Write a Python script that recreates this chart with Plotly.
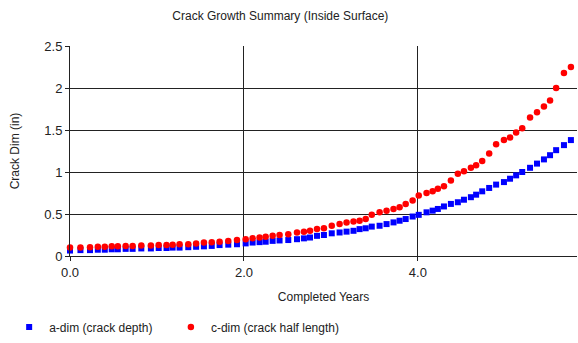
import plotly.graph_objects as go

years = [0.00, 0.12, 0.23, 0.32, 0.40, 0.48, 0.55, 0.64, 0.72, 0.82, 0.93, 1.02,
         1.11, 1.18, 1.26, 1.36, 1.45, 1.54, 1.63, 1.72, 1.82, 1.92, 2.02, 2.10,
         2.18, 2.25, 2.33, 2.41, 2.51, 2.61, 2.69, 2.76, 2.84, 2.92, 3.01, 3.10,
         3.18, 3.26, 3.33, 3.40, 3.47, 3.56, 3.64, 3.72, 3.79, 3.86, 3.94, 4.01,
         4.10, 4.17, 4.23, 4.30, 4.38, 4.46, 4.53, 4.61, 4.67, 4.74, 4.82, 4.90,
         4.99, 5.06, 5.13, 5.20, 5.29, 5.37, 5.45, 5.52, 5.59, 5.68, 5.76]

a_dim = [0.065, 0.07, 0.07, 0.075, 0.075, 0.08, 0.08, 0.085, 0.085, 0.09, 0.09, 0.095,
         0.095, 0.10, 0.10, 0.105,
         0.11, 0.115, 0.12, 0.13, 0.135, 0.14, 0.15, 0.16, 0.165, 0.17, 0.18, 0.185,
         0.19, 0.20, 0.21, 0.22,
         0.24, 0.25, 0.27, 0.28, 0.29, 0.30, 0.32, 0.33, 0.35, 0.36, 0.38, 0.40,
         0.42, 0.44, 0.47, 0.49,
         0.52, 0.54, 0.56, 0.59, 0.62, 0.64, 0.67, 0.70, 0.73, 0.77, 0.81, 0.85,
         0.88, 0.92, 0.96, 1.00, 1.05, 1.10, 1.15, 1.20, 1.26, 1.32, 1.38]

c_dim = [0.10, 0.10, 0.105, 0.11, 0.11, 0.115, 0.115, 0.12, 0.12, 0.125, 0.125, 0.13,
         0.13, 0.135, 0.14, 0.14,
         0.15, 0.16, 0.165, 0.17, 0.18, 0.19, 0.20, 0.21, 0.22, 0.23, 0.24, 0.25,
         0.26, 0.28, 0.29, 0.30,
         0.32, 0.33, 0.36, 0.38, 0.40, 0.41, 0.42, 0.44, 0.49, 0.52, 0.54, 0.56,
         0.58, 0.62, 0.66, 0.72,
         0.75, 0.77, 0.80, 0.83, 0.90, 0.98, 1.01, 1.05, 1.08, 1.13, 1.22, 1.33,
         1.38, 1.41, 1.47, 1.52, 1.65, 1.71, 1.78, 1.85, 2.00, 2.18, 2.25]

x_tickvals = [0, 2, 4]
y_tickvals = [0, 0.5, 1, 1.5, 2, 2.5]

FONT = "Liberation Sans, Arial, sans-serif"
TXT = "#222222"

fig = go.Figure()
fig.add_trace(go.Scatter(
    x=years, y=a_dim, mode="markers", name="a-dim (crack depth)",
    marker=dict(symbol="square", size=6, color="#0000FF"),
    cliponaxis=False, legend="legend",
))
fig.add_trace(go.Scatter(
    x=years, y=c_dim, mode="markers", name="c-dim (crack half length)",
    marker=dict(symbol="circle", size=6.5, color="#FF0000"),
    cliponaxis=False, legend="legend2",
))

legend_common = dict(orientation="h", xanchor="left", y=-0.338, yanchor="middle",
                     font=dict(size=12, color=TXT), itemsizing="trace",
                     bgcolor="rgba(0,0,0,0)")

fig.update_layout(
    width=578, height=343,
    margin=dict(l=70, r=1, t=46, b=87),
    paper_bgcolor="white", plot_bgcolor="white",
    font=dict(family=FONT, size=12, color=TXT),
    title=dict(text="Crack Growth Summary (Inside Surface)", x=0.485, xanchor="center",
               y=0.955, yanchor="middle", font=dict(size=12, color=TXT)),
    showlegend=True,
    legend=dict(x=-0.12, **legend_common),
    legend2=dict(x=0.199, **legend_common),
    xaxis=dict(
        range=[0, 5.83], tickvals=x_tickvals, tickformat=".1f",
        showgrid=True, gridcolor=TXT, gridwidth=1,
        showline=True, linecolor=TXT, linewidth=1,
        ticks="outside", ticklen=4, tickcolor=TXT,
        zeroline=False, automargin=False,
        tickfont=dict(size=13, color=TXT),
        title=dict(text="Completed Years", font=dict(size=12, color=TXT), standoff=14),
    ),
    yaxis=dict(
        range=[0, 2.5], tickvals=y_tickvals,
        showgrid=True, gridcolor=TXT, gridwidth=1,
        showline=True, linecolor=TXT, linewidth=1,
        ticks="outside", ticklen=4, tickcolor=TXT,
        zeroline=False, automargin=False,
        tickfont=dict(size=13, color=TXT),
        title=dict(text="Crack Dim (in)", font=dict(size=12, color=TXT), standoff=22),
    ),
)

fig.write_html("out.html", config={"displayModeBar": False},
               post_script="document.body.style.margin='0px';")
